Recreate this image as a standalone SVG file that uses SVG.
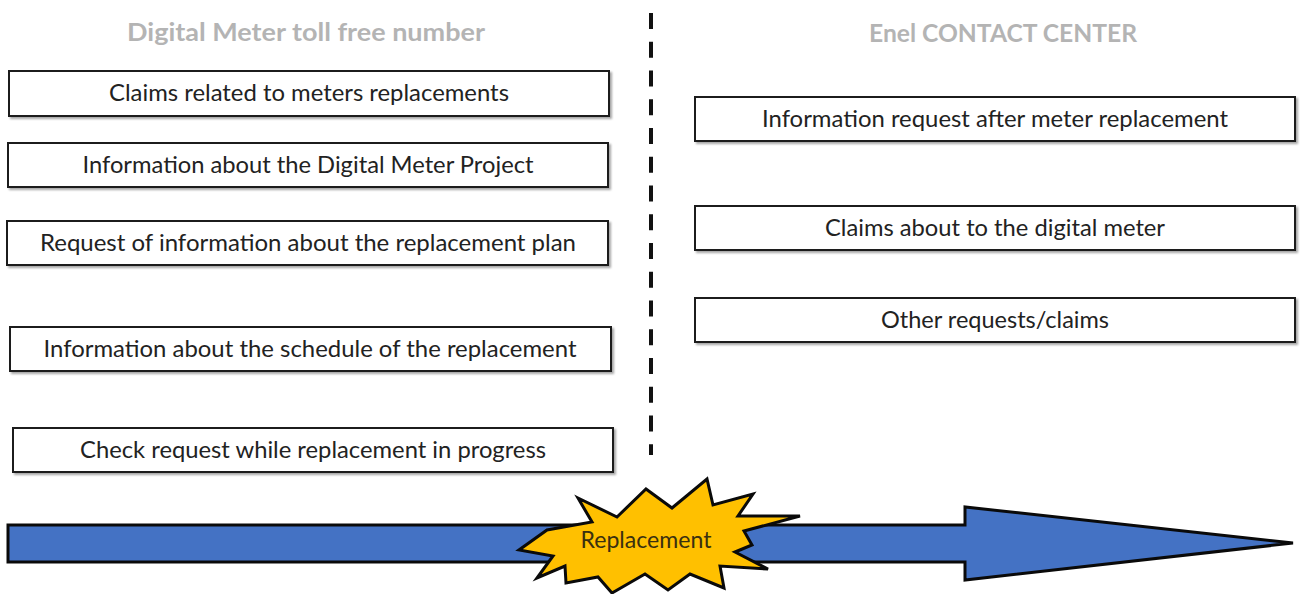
<svg xmlns="http://www.w3.org/2000/svg" width="1302" height="594" viewBox="0 0 1302 594">
  <defs>
    <filter id="shadow" x="-5%" y="-30%" width="110%" height="170%">
      <feDropShadow dx="2" dy="2" stdDeviation="1.2" flood-color="#000" flood-opacity="0.35"/>
    </filter>
    <style>
      .title { font-family: Lato, "Liberation Sans", sans-serif; font-weight: bold; font-size: 25px; fill: #b4b4b4; text-anchor: middle; }
      .box rect { fill: #ffffff; stroke: #1a1a1a; stroke-width: 2; filter: url(#shadow); }
      .box text { font-family: Lato, "Liberation Sans", sans-serif; font-size: 23px; fill: #222; text-anchor: middle; }
      .divider { stroke: #111; stroke-width: 4; stroke-dasharray: 16 12.75; fill: none; }
      .timeline { fill: #4472c4; stroke: #0a0a0a; stroke-width: 3; stroke-linejoin: miter; }
      .burst { fill: #ffc000; stroke: #0a0a0a; stroke-width: 3; stroke-linejoin: miter; }
      .burst-label { font-family: Lato, "Liberation Sans", sans-serif; font-size: 23px; fill: #3a3010; text-anchor: middle; }
    </style>
  </defs>

  <rect width="1302" height="594" fill="#ffffff"/>

  <!-- column headings -->
  <text class="title" x="306" y="41" textLength="358" lengthAdjust="spacingAndGlyphs">Digital Meter toll free number</text>
  <text class="title" x="1003" y="42" textLength="268" lengthAdjust="spacingAndGlyphs">Enel CONTACT CENTER</text>

  <!-- separator between the two channels -->
  <g id="connectors">
    <line class="divider" x1="651" y1="13" x2="651" y2="455"/>
  </g>

  <!-- toll free number topics -->
  <g id="n-claims-replacements" class="box">
    <rect x="9" y="71" width="600" height="45"/>
    <text x="309" y="101" textLength="400" lengthAdjust="spacingAndGlyphs">Claims related to meters replacements</text>
  </g>
  <g id="n-info-project" class="box">
    <rect x="8" y="143" width="600" height="44"/>
    <text x="308" y="173" textLength="451" lengthAdjust="spacingAndGlyphs">Information about the Digital Meter Project</text>
  </g>
  <g id="n-replacement-plan" class="box">
    <rect x="7" y="221" width="601" height="44"/>
    <text x="308" y="251" textLength="536" lengthAdjust="spacingAndGlyphs">Request of information about the replacement plan</text>
  </g>
  <g id="n-schedule" class="box">
    <rect x="10" y="327" width="601" height="44"/>
    <text x="310" y="357" textLength="533" lengthAdjust="spacingAndGlyphs">Information about the schedule of the replacement</text>
  </g>
  <g id="n-check-request" class="box">
    <rect x="13" y="428" width="600" height="44"/>
    <text x="313" y="458" textLength="466" lengthAdjust="spacingAndGlyphs">Check request while replacement in progress</text>
  </g>

  <!-- contact center topics -->
  <g id="n-info-after" class="box">
    <rect x="695" y="97" width="600" height="44"/>
    <text x="995" y="127" textLength="466" lengthAdjust="spacingAndGlyphs">Information request after meter replacement</text>
  </g>
  <g id="n-claims-digital" class="box">
    <rect x="695" y="206" width="600" height="44"/>
    <text x="995" y="236" textLength="340" lengthAdjust="spacingAndGlyphs">Claims about to the digital meter</text>
  </g>
  <g id="n-other" class="box">
    <rect x="695" y="298" width="600" height="44"/>
    <text x="995" y="328" textLength="228" lengthAdjust="spacingAndGlyphs">Other requests/claims</text>
  </g>

  <!-- timeline arrow -->
  <g id="timeline">
    <polygon class="timeline" points="8,525 965,525 965,507 1293,543 965,580 965,562 8,562"/>
  </g>

  <!-- replacement burst -->
  <g id="replacement">
    <polygon class="burst" points="578,498 617,517 646,489 672,508 707,479 713,505 753,494 738,516 800,516 744,531 752,545 735,552 768,569 720,566 724,588 690,574 668,590 645,574 612,593 598,577 566,583 565,566 537,578 553,556 519,550 547,530 592,522"/>
    <text class="burst-label" x="646" y="548" textLength="131" lengthAdjust="spacingAndGlyphs">Replacement</text>
  </g>
</svg>
